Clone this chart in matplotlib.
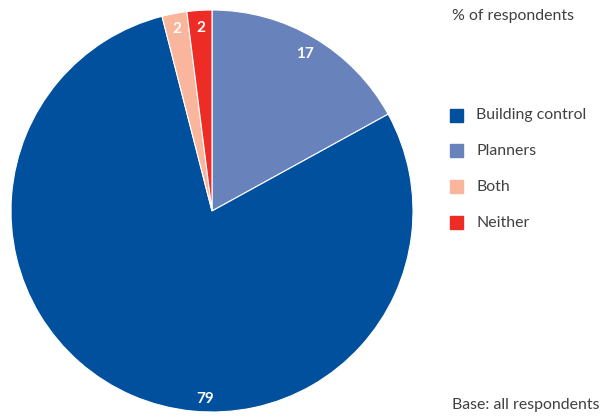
import numpy as np
import matplotlib
matplotlib.use("Agg")
import matplotlib.pyplot as plt
from matplotlib.patches import Rectangle

plt.rcParams['font.family'] = ['Lato', 'DejaVu Sans']

# Share of respondents, drawn clockwise from 12 o'clock
categories = ["Planners", "Building control", "Both", "Neither"]
values = [17, 79, 2, 2]
colors = ["#6882bb", "#00509d", "#f9b69c", "#ed2d25"]

legend_order = ["Building control", "Planners", "Both", "Neither"]

fig = plt.figure(figsize=(6.02, 4.19), dpi=100)
W, H = 602, 419

# Pie axes: centre (212, 211) px, radius 201 px
cx, cy, r = 212, 211, 201
ax = fig.add_axes([(cx - r) / W, (H - cy - r) / H, 2 * r / W, 2 * r / H])

wedges, _ = ax.pie(values, colors=colors, startangle=90, counterclock=False,
                   radius=1, wedgeprops=dict(edgecolor='white', linewidth=0.8))
ax.set_xlim(-1, 1)
ax.set_ylim(-1, 1)
ax.set_aspect('equal')
ax.axis('off')

# Value labels near the rim; the large slice is labelled at the bottom
total = sum(values)
label_angle = {}
start = 90.0
for cat, v in zip(categories, values):
    mid = start - 360.0 * v / total / 2
    label_angle[cat] = mid
    start -= 360.0 * v / total
label_angle["Building control"] = -92.0
label_r = {"Planners": 0.91, "Building control": 0.935, "Both": 0.92, "Neither": 0.91}
for cat, v in zip(categories, values):
    a = np.deg2rad(label_angle[cat])
    rr = label_r[cat]
    ax.text(rr * np.cos(a), rr * np.sin(a), f"{v}", color='white',
            fontsize=11, fontweight='bold', ha='center', va='center')

# Legend drawn in figure pixel coordinates
txt_color = "#404040"
fs = 11.4
fig.text(452 / W, 1 - 16 / H, "% of respondents", fontsize=fs,
         color=txt_color, ha='left', va='center')
for i, cat in enumerate(legend_order):
    y = 115 + 36 * i
    col = colors[categories.index(cat)]
    fig.patches.append(Rectangle(((450) / W, 1 - (y + 6.5) / H), 13 / W, 13 / H,
                                 transform=fig.transFigure, color=col))
    fig.text(476 / W, 1 - y / H, cat, fontsize=fs, color=txt_color,
             ha='left', va='center')
fig.text(452 / W, 1 - 405 / H, "Base: all respondents", fontsize=fs,
         color=txt_color, ha='left', va='center')

fig.savefig("out.png", dpi=100, facecolor='white')
